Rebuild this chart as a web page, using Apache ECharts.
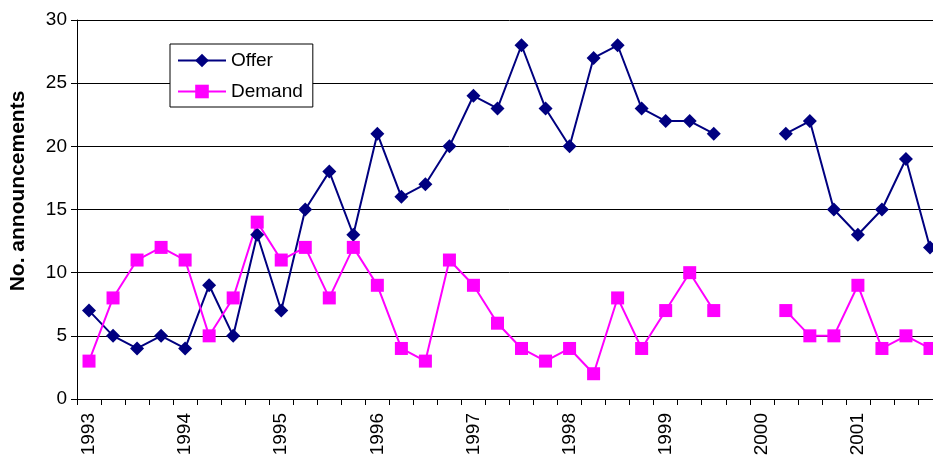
<!DOCTYPE html>
<html>
<head>
<meta charset="utf-8">
<script src="https://cdn.jsdelivr.net/npm/echarts@6/dist/echarts.min.js"></script>
<style>html,body{margin:0;padding:0;background:#fff;overflow:hidden;}#chart{width:945px;height:461px;}</style>
</head>
<body>
<div id="chart"></div>
<script>
var years = ['1993','1994','1995','1996','1997','1998','1999','2000','2001'];
var quarters = ['Q1','Q2','Q3','Q4'];
var categories = [];
years.forEach(function(y){ quarters.forEach(function(q){ categories.push(y + ' ' + q); }); });

var offer = [7,5,4,5, 4,9,5,13, 7,15,18,13, 21,16,17,20, 24,23,28,23, 20,27,28,23, 22,22,21,null, null,21,22,15, 13,15,19,12];
var demand = [3,8,11,12, 11,5,8,14, 11,12,8,12, 9,4,3,11, 9,6,4,3, 4,2,8,4, 7,10,7,null, null,7,5,5, 9,4,5,4];
var yTicks = [0,5,10,15,20,25,30];

var FONT = 'Arial, "Liberation Sans", sans-serif';
var chart = echarts.init(document.getElementById('chart'));
chart.setOption({
  animation: false,
  backgroundColor: '#fff',
  textStyle: {fontFamily: FONT},
  grid: {left: 77, top: 20, right: 3, height: 379, containLabel: false},
  legend: {
    orient: 'vertical', left: 170, top: 44,
    backgroundColor: '#fff', borderColor: '#000', borderWidth: 1,
    padding: [7, 10, 6, 7],
    itemWidth: 48, itemHeight: 17, itemGap: 12,
    textStyle: {fontSize: 19, color: '#000', fontFamily: FONT, lineHeight: 19},
    data: ['Offer', 'Demand']
  },
  xAxis: {
    type: 'category', data: categories, boundaryGap: true,
    axisLine: {lineStyle: {color: '#000', width: 1}},
    axisTick: {show: true, interval: 0, length: 6, lineStyle: {color: '#000'}},
    axisLabel: {
      interval: 3, rotate: 90, margin: 14, fontSize: 19, color: '#000', fontFamily: FONT,
      formatter: function(v){ return v.split(' ')[0]; }
    },
    splitLine: {show: false}
  },
  yAxis: {
    type: 'value', min: yTicks[0], max: yTicks[yTicks.length-1], interval: 5,
    axisLine: {show: true, lineStyle: {color: '#000', width: 1}},
    axisTick: {show: true, length: 6, lineStyle: {color: '#000'}},
    axisLabel: {fontSize: 19, color: '#000', margin: 10, fontFamily: FONT},
    splitLine: {show: true, lineStyle: {color: '#000', width: 1}}
  },
  graphic: [{
    type: 'text', x: 18, y: 191, rotation: Math.PI/2,
    style: {text: 'No. announcements', font: 'bold 21px ' + FONT, fill: '#000', align: 'center', verticalAlign: 'middle'}
  }],
  series: [
    {name: 'Offer', type: 'line', data: offer, connectNulls: false,
     symbol: 'diamond', symbolSize: 14,
     lineStyle: {color: '#000080', width: 2}, itemStyle: {color: '#000080'}},
    {name: 'Demand', type: 'line', data: demand, connectNulls: false,
     symbol: 'rect', symbolSize: 13,
     lineStyle: {color: '#ff00ff', width: 2}, itemStyle: {color: '#ff00ff'}}
  ]
});
</script>
</body>
</html>
